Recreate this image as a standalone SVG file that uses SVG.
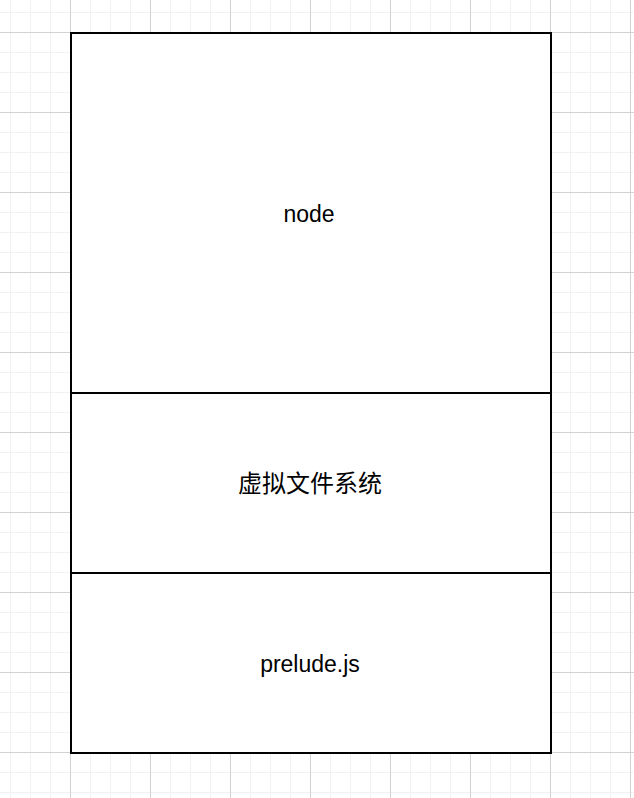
<svg xmlns="http://www.w3.org/2000/svg" width="634" height="798" viewBox="0 0 634 798">
  <defs>
    <pattern id="grid" x="70" y="32" width="80" height="80" patternUnits="userSpaceOnUse">
      <path d="M20.5 0V80M40.5 0V80M60.5 0V80M0 20.5H80M0 40.5H80M0 60.5H80" stroke="#f2f2f2" stroke-width="1" fill="none"/>
      <path d="M0.5 0V80M0 0.5H80" stroke="#d2d2d2" stroke-width="1" fill="none"/>
    </pattern>
    <style>
      .box { fill: #ffffff; stroke: #000000; stroke-width: 2; }
      .lbl { font-family: "Liberation Sans", Arial, "Noto Sans CJK SC", sans-serif; font-size: 23px; fill: #000000; text-anchor: middle; }
      .cjk { font-size: 24px; }
    </style>
  </defs>
  <rect x="0" y="0" width="634" height="798" fill="#ffffff"/>
  <rect x="0" y="0" width="634" height="798" fill="url(#grid)"/>
  <g id="connectors"></g>
  <g id="node-node">
    <rect class="box" x="71" y="33" width="480" height="360"/>
    <text class="lbl" x="309" y="222">node</text>
  </g>
  <g id="node-vfs">
    <rect class="box" x="71" y="393" width="480" height="180"/>
    <text class="lbl cjk" x="310" y="492">虚拟文件系统</text>
  </g>
  <g id="node-prelude">
    <rect class="box" x="71" y="573" width="480" height="180"/>
    <text class="lbl" x="310" y="672">prelude.js</text>
  </g>
</svg>
